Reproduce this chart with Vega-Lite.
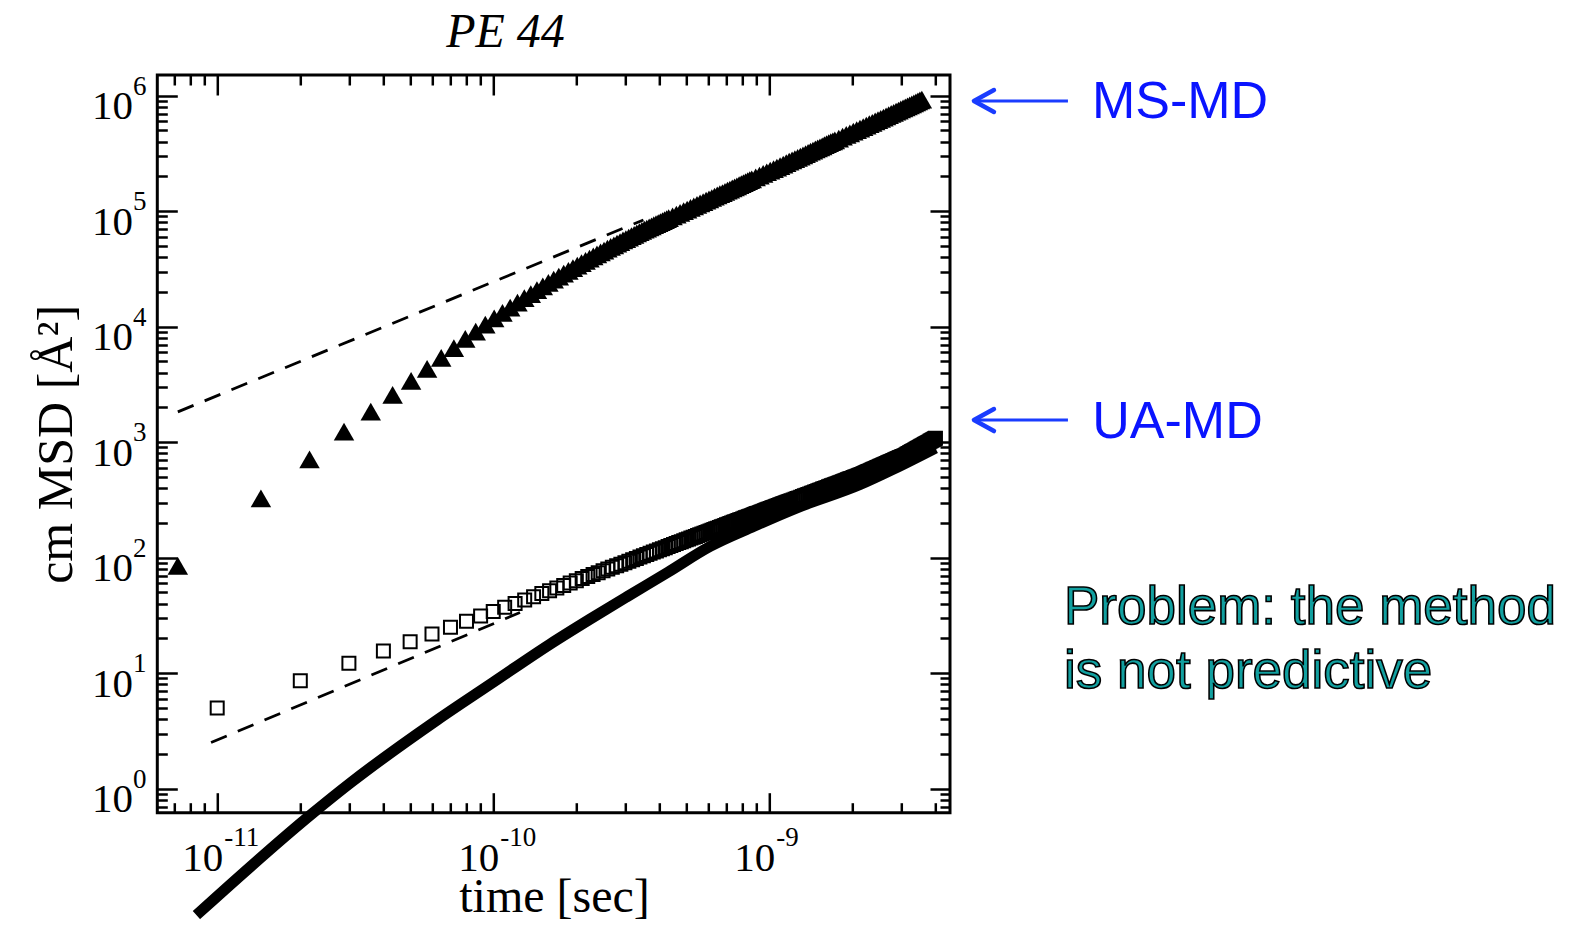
{
  "$schema": "https://vega.github.io/schema/vega-lite/v6.json",
  "autosize": "none",
  "width": 792.7,
  "height": 737.7,
  "padding": {"left": 157.3, "top": 75, "right": 626, "bottom": 113.3},
  "background": "white",
  "config": {
    "view": {"stroke": "black", "strokeWidth": 3},
    "axis": {
      "domain": false,
      "grid": false,
      "tickColor": "black",
      "tickWidth": 2.5,
      "labelColor": "black",
      "labelFont": "Liberation Serif",
      "labelFontSize": 41,
      "labelOverlap": false,
      "labelFlush": false,
      "labelBound": false,
      "titleColor": "black",
      "titleFont": "Liberation Serif",
      "titleFontWeight": "normal",
      "titleFontSize": 50
    }
  },
  "datasets": {
    "msmd": [
      {"t": 7.2e-12, "msd": 85}, {"t": 1.44e-11, "msd": 327}, {"t": 2.16e-11, "msd": 711},
      {"t": 2.88e-11, "msd": 1233}, {"t": 3.6e-11, "msd": 1837}, {"t": 4.32e-11, "msd": 2570},
      {"t": 5.04e-11, "msd": 3388}, {"t": 5.76e-11, "msd": 4315}, {"t": 6.48e-11, "msd": 5370},
      {"t": 7.2e-11, "msd": 6530}, {"t": 7.92e-11, "msd": 7850}, {"t": 8.64e-11, "msd": 9082},
      {"t": 9.36e-11, "msd": 10407}, {"t": 1.008e-10, "msd": 11784}, {"t": 1.08e-10, "msd": 13196},
      {"t": 1.152e-10, "msd": 14648}, {"t": 1.224e-10, "msd": 16133}, {"t": 1.296e-10, "msd": 17650},
      {"t": 1.368e-10, "msd": 19187}, {"t": 1.44e-10, "msd": 20757}, {"t": 1.512e-10, "msd": 22336},
      {"t": 1.584e-10, "msd": 23941}, {"t": 1.656e-10, "msd": 25558}, {"t": 1.728e-10, "msd": 27194},
      {"t": 1.8e-10, "msd": 28837}, {"t": 1.872e-10, "msd": 30484}, {"t": 1.944e-10, "msd": 32159},
      {"t": 2.016e-10, "msd": 33826}, {"t": 2.088e-10, "msd": 35499}, {"t": 2.16e-10, "msd": 37180},
      {"t": 2.232e-10, "msd": 38867}, {"t": 2.304e-10, "msd": 40551}, {"t": 2.376e-10, "msd": 42247},
      {"t": 2.448e-10, "msd": 43954}, {"t": 2.52e-10, "msd": 45633}, {"t": 2.592e-10, "msd": 47326},
      {"t": 2.664e-10, "msd": 49020}, {"t": 2.736e-10, "msd": 50716}, {"t": 2.808e-10, "msd": 52398},
      {"t": 2.88e-10, "msd": 54086}, {"t": 2.952e-10, "msd": 55768}, {"t": 3.024e-10, "msd": 57443},
      {"t": 3.096e-10, "msd": 59128}, {"t": 3.168e-10, "msd": 60786}, {"t": 3.24e-10, "msd": 62470},
      {"t": 3.312e-10, "msd": 64135}, {"t": 3.384e-10, "msd": 65793}, {"t": 3.456e-10, "msd": 67453},
      {"t": 3.528e-10, "msd": 69098}, {"t": 3.6e-10, "msd": 70729}, {"t": 3.672e-10, "msd": 72377},
      {"t": 3.744e-10, "msd": 74012}, {"t": 3.816e-10, "msd": 75634}, {"t": 3.888e-10, "msd": 77250},
      {"t": 3.96e-10, "msd": 78863}, {"t": 4.032e-10, "msd": 80465}, {"t": 4.104e-10, "msd": 82082},
      {"t": 4.176e-10, "msd": 83694}, {"t": 4.248e-10, "msd": 85316}, {"t": 4.32e-10, "msd": 86970},
      {"t": 4.464e-10, "msd": 90190}, {"t": 4.608e-10, "msd": 93460}, {"t": 4.752e-10, "msd": 96731},
      {"t": 4.896e-10, "msd": 100020}, {"t": 5.04e-10, "msd": 103320}, {"t": 5.184e-10, "msd": 106630},
      {"t": 5.328e-10, "msd": 109949}, {"t": 5.472e-10, "msd": 113320}, {"t": 5.616e-10, "msd": 116632},
      {"t": 5.76e-10, "msd": 119990}, {"t": 5.904e-10, "msd": 123349}, {"t": 6.048e-10, "msd": 126740},
      {"t": 6.192e-10, "msd": 130113}, {"t": 6.336e-10, "msd": 133500}, {"t": 6.48e-10, "msd": 136902},
      {"t": 6.624e-10, "msd": 140320}, {"t": 6.768e-10, "msd": 143744}, {"t": 6.912e-10, "msd": 147170},
      {"t": 7.056e-10, "msd": 150609}, {"t": 7.2e-10, "msd": 154060}, {"t": 7.344e-10, "msd": 157494},
      {"t": 7.488e-10, "msd": 161000}, {"t": 7.632e-10, "msd": 164447}, {"t": 7.776e-10, "msd": 167940},
      {"t": 7.92e-10, "msd": 171400}, {"t": 8.064e-10, "msd": 174920}, {"t": 8.208e-10, "msd": 178406},
      {"t": 8.352e-10, "msd": 181940}, {"t": 8.496e-10, "msd": 185430}, {"t": 8.64e-10, "msd": 189000},
      {"t": 8.928e-10, "msd": 196011}, {"t": 9.216e-10, "msd": 203110}, {"t": 9.504e-10, "msd": 210241},
      {"t": 9.792e-10, "msd": 217400}, {"t": 1.008e-9, "msd": 224568}, {"t": 1.0368e-9, "msd": 231740},
      {"t": 1.0656e-9, "msd": 238983}, {"t": 1.0944e-9, "msd": 246240}, {"t": 1.1232e-9, "msd": 253495},
      {"t": 1.152e-9, "msd": 260800}, {"t": 1.1808e-9, "msd": 268099}, {"t": 1.2096e-9, "msd": 275420},
      {"t": 1.2384e-9, "msd": 282793}, {"t": 1.2672e-9, "msd": 290200}, {"t": 1.296e-9, "msd": 297559},
      {"t": 1.3248e-9, "msd": 305050}, {"t": 1.3536e-9, "msd": 312395}, {"t": 1.3824e-9, "msd": 319890},
      {"t": 1.4112e-9, "msd": 327347}, {"t": 1.44e-9, "msd": 334880}, {"t": 1.4688e-9, "msd": 342342},
      {"t": 1.4976e-9, "msd": 349900}, {"t": 1.5264e-9, "msd": 357421}, {"t": 1.5552e-9, "msd": 364960},
      {"t": 1.584e-9, "msd": 372550}, {"t": 1.6128e-9, "msd": 380190}, {"t": 1.6416e-9, "msd": 387757},
      {"t": 1.6704e-9, "msd": 395420}, {"t": 1.6992e-9, "msd": 403032}, {"t": 1.728e-9, "msd": 410720},
      {"t": 1.7856e-9, "msd": 426043}, {"t": 1.8432e-9, "msd": 441540}, {"t": 1.9008e-9, "msd": 456953},
      {"t": 1.9584e-9, "msd": 472480}, {"t": 2.016e-9, "msd": 488092}, {"t": 2.0736e-9, "msd": 503780},
      {"t": 2.1312e-9, "msd": 519425}, {"t": 2.1888e-9, "msd": 535150}, {"t": 2.2464e-9, "msd": 550969},
      {"t": 2.304e-9, "msd": 566740}, {"t": 2.3616e-9, "msd": 582709}, {"t": 2.4192e-9, "msd": 598660},
      {"t": 2.4768e-9, "msd": 614656}, {"t": 2.5344e-9, "msd": 630600}, {"t": 2.592e-9, "msd": 646756},
      {"t": 2.6496e-9, "msd": 662770}, {"t": 2.7072e-9, "msd": 679043}, {"t": 2.7648e-9, "msd": 695120},
      {"t": 2.8224e-9, "msd": 711479}, {"t": 2.88e-9, "msd": 727780}, {"t": 2.9376e-9, "msd": 744079},
      {"t": 2.9952e-9, "msd": 760480}, {"t": 3.0528e-9, "msd": 776858}, {"t": 3.1104e-9, "msd": 793230},
      {"t": 3.168e-9, "msd": 809730}, {"t": 3.2256e-9, "msd": 826180}, {"t": 3.2832e-9, "msd": 842806},
      {"t": 3.3408e-9, "msd": 859360}, {"t": 3.3984e-9, "msd": 875913}, {"t": 3.456e-9, "msd": 892640},
      {"t": 3.5136e-9, "msd": 909308}, {"t": 3.5712e-9, "msd": 925930}
    ],
    "uamd": [
      {"t": 1e-11, "msd": 5.0}, {"t": 2e-11, "msd": 8.6}, {"t": 3e-11, "msd": 12.2}, {"t": 4e-11, "msd": 15.6},
      {"t": 5e-11, "msd": 18.7}, {"t": 6e-11, "msd": 21.8}, {"t": 7e-11, "msd": 25.0}, {"t": 8e-11, "msd": 28.2},
      {"t": 9e-11, "msd": 31.2}, {"t": 1e-10, "msd": 34.2}, {"t": 1.1e-10, "msd": 37.2}, {"t": 1.2e-10, "msd": 40.2},
      {"t": 1.3e-10, "msd": 43.1}, {"t": 1.4e-10, "msd": 46.0}, {"t": 1.5e-10, "msd": 48.9}, {"t": 1.6e-10, "msd": 51.76},
      {"t": 1.7e-10, "msd": 54.63}, {"t": 1.8e-10, "msd": 57.48}, {"t": 1.9e-10, "msd": 60.32}, {"t": 2.0e-10, "msd": 63.14},
      {"t": 2.1e-10, "msd": 65.94}, {"t": 2.2e-10, "msd": 68.73}, {"t": 2.3e-10, "msd": 71.5}, {"t": 2.4e-10, "msd": 74.26},
      {"t": 2.5e-10, "msd": 77.01}, {"t": 2.6e-10, "msd": 79.74}, {"t": 2.7e-10, "msd": 82.46}, {"t": 2.8e-10, "msd": 85.18},
      {"t": 2.9e-10, "msd": 87.88}, {"t": 3.0e-10, "msd": 90.57}, {"t": 3.1e-10, "msd": 93.25}, {"t": 3.2e-10, "msd": 95.93},
      {"t": 3.3e-10, "msd": 98.59}, {"t": 3.4e-10, "msd": 101.25}, {"t": 3.5e-10, "msd": 103.89}, {"t": 3.6e-10, "msd": 106.53},
      {"t": 3.7e-10, "msd": 109.16}, {"t": 3.8e-10, "msd": 111.78}, {"t": 3.9e-10, "msd": 114.39}, {"t": 4.0e-10, "msd": 117.0},
      {"t": 4.1e-10, "msd": 119.6}, {"t": 4.2e-10, "msd": 122.19}, {"t": 4.3e-10, "msd": 124.77}, {"t": 4.4e-10, "msd": 127.36},
      {"t": 4.5e-10, "msd": 129.93}, {"t": 4.6e-10, "msd": 132.5}, {"t": 4.7e-10, "msd": 135.06}, {"t": 4.8e-10, "msd": 137.61},
      {"t": 4.9e-10, "msd": 140.16}, {"t": 5.0e-10, "msd": 142.71}, {"t": 5.1e-10, "msd": 145.24}, {"t": 5.2e-10, "msd": 147.77},
      {"t": 5.3e-10, "msd": 150.3}, {"t": 5.4e-10, "msd": 152.81}, {"t": 5.5e-10, "msd": 155.33}, {"t": 5.6e-10, "msd": 157.83},
      {"t": 5.7e-10, "msd": 160.35}, {"t": 5.8e-10, "msd": 162.86}, {"t": 5.9e-10, "msd": 165.35}, {"t": 6.0e-10, "msd": 167.85},
      {"t": 6.1e-10, "msd": 170.34}, {"t": 6.2e-10, "msd": 172.82}, {"t": 6.3e-10, "msd": 175.3}, {"t": 6.4e-10, "msd": 177.77},
      {"t": 6.5e-10, "msd": 180.24}, {"t": 6.6e-10, "msd": 182.71}, {"t": 6.7e-10, "msd": 185.17}, {"t": 6.8e-10, "msd": 187.62},
      {"t": 6.9e-10, "msd": 190.08}, {"t": 7.0e-10, "msd": 192.53}, {"t": 7.1e-10, "msd": 194.97}, {"t": 7.2e-10, "msd": 197.4},
      {"t": 7.3e-10, "msd": 199.85}, {"t": 7.4e-10, "msd": 202.29}, {"t": 7.5e-10, "msd": 204.72}, {"t": 7.6e-10, "msd": 207.15},
      {"t": 7.7e-10, "msd": 209.57}, {"t": 7.8e-10, "msd": 211.99}, {"t": 7.9e-10, "msd": 214.4}, {"t": 8.0e-10, "msd": 216.81},
      {"t": 8.1e-10, "msd": 219.22}, {"t": 8.2e-10, "msd": 221.63}, {"t": 8.3e-10, "msd": 224.04}, {"t": 8.4e-10, "msd": 226.45},
      {"t": 8.5e-10, "msd": 228.85}, {"t": 8.6e-10, "msd": 231.24}, {"t": 8.7e-10, "msd": 233.63}, {"t": 8.8e-10, "msd": 236.02},
      {"t": 8.9e-10, "msd": 238.41}, {"t": 9.0e-10, "msd": 240.79}, {"t": 9.1e-10, "msd": 243.17}, {"t": 9.2e-10, "msd": 245.55},
      {"t": 9.3e-10, "msd": 247.93}, {"t": 9.4e-10, "msd": 250.3}, {"t": 9.5e-10, "msd": 252.67}, {"t": 9.6e-10, "msd": 255.03},
      {"t": 9.7e-10, "msd": 257.39}, {"t": 9.8e-10, "msd": 259.75}, {"t": 9.9e-10, "msd": 262.11}, {"t": 1.0e-9, "msd": 264.46},
      {"t": 1.01e-9, "msd": 266.81}, {"t": 1.02e-9, "msd": 269.16}, {"t": 1.03e-9, "msd": 271.51}, {"t": 1.04e-9, "msd": 273.86},
      {"t": 1.05e-9, "msd": 276.19}, {"t": 1.06e-9, "msd": 278.52}, {"t": 1.07e-9, "msd": 280.86}, {"t": 1.08e-9, "msd": 283.2},
      {"t": 1.09e-9, "msd": 285.54}, {"t": 1.1e-9, "msd": 287.87}, {"t": 1.11e-9, "msd": 290.2}, {"t": 1.12e-9, "msd": 292.53},
      {"t": 1.13e-9, "msd": 294.85}, {"t": 1.14e-9, "msd": 297.17}, {"t": 1.15e-9, "msd": 299.49}, {"t": 1.16e-9, "msd": 301.81},
      {"t": 1.17e-9, "msd": 304.11}, {"t": 1.18e-9, "msd": 306.41}, {"t": 1.19e-9, "msd": 308.72}, {"t": 1.2e-9, "msd": 311.03},
      {"t": 1.22e-9, "msd": 315.65}, {"t": 1.24e-9, "msd": 320.26}, {"t": 1.26e-9, "msd": 324.85}, {"t": 1.28e-9, "msd": 329.44},
      {"t": 1.3e-9, "msd": 334.02}, {"t": 1.32e-9, "msd": 338.59}, {"t": 1.34e-9, "msd": 343.14}, {"t": 1.36e-9, "msd": 347.68},
      {"t": 1.38e-9, "msd": 352.24}, {"t": 1.4e-9, "msd": 356.8}, {"t": 1.42e-9, "msd": 361.33}, {"t": 1.44e-9, "msd": 365.85},
      {"t": 1.46e-9, "msd": 370.36}, {"t": 1.48e-9, "msd": 374.87}, {"t": 1.5e-9, "msd": 379.37}, {"t": 1.52e-9, "msd": 383.87},
      {"t": 1.54e-9, "msd": 388.36}, {"t": 1.56e-9, "msd": 392.84}, {"t": 1.58e-9, "msd": 397.33}, {"t": 1.6e-9, "msd": 401.82},
      {"t": 1.62e-9, "msd": 406.28}, {"t": 1.64e-9, "msd": 410.74}, {"t": 1.66e-9, "msd": 415.2}, {"t": 1.68e-9, "msd": 419.65},
      {"t": 1.7e-9, "msd": 424.09}, {"t": 1.72e-9, "msd": 428.53}, {"t": 1.74e-9, "msd": 432.94}, {"t": 1.76e-9, "msd": 437.35},
      {"t": 1.78e-9, "msd": 441.79}, {"t": 1.8e-9, "msd": 446.22}, {"t": 1.82e-9, "msd": 450.63}, {"t": 1.84e-9, "msd": 455.04},
      {"t": 1.86e-9, "msd": 459.44}, {"t": 1.88e-9, "msd": 463.83}, {"t": 1.9e-9, "msd": 468.21}, {"t": 1.92e-9, "msd": 472.59},
      {"t": 1.94e-9, "msd": 476.98}, {"t": 1.96e-9, "msd": 481.37}, {"t": 1.98e-9, "msd": 485.74}, {"t": 2.0e-9, "msd": 490.11},
      {"t": 2.02e-9, "msd": 494.46}, {"t": 2.04e-9, "msd": 498.81}, {"t": 2.06e-9, "msd": 503.15}, {"t": 2.08e-9, "msd": 507.49},
      {"t": 2.1e-9, "msd": 511.84}, {"t": 2.12e-9, "msd": 516.18}, {"t": 2.14e-9, "msd": 520.96}, {"t": 2.16e-9, "msd": 525.73},
      {"t": 2.18e-9, "msd": 530.85}, {"t": 2.2e-9, "msd": 535.96}, {"t": 2.22e-9, "msd": 541.09}, {"t": 2.24e-9, "msd": 546.21},
      {"t": 2.26e-9, "msd": 551.32}, {"t": 2.28e-9, "msd": 556.42}, {"t": 2.3e-9, "msd": 561.57}, {"t": 2.32e-9, "msd": 566.71},
      {"t": 2.34e-9, "msd": 571.85}, {"t": 2.36e-9, "msd": 576.98}, {"t": 2.38e-9, "msd": 582.12}, {"t": 2.4e-9, "msd": 587.25},
      {"t": 2.42e-9, "msd": 592.38}, {"t": 2.44e-9, "msd": 597.51}, {"t": 2.46e-9, "msd": 602.66}, {"t": 2.48e-9, "msd": 607.8},
      {"t": 2.5e-9, "msd": 612.95}, {"t": 2.52e-9, "msd": 618.1}, {"t": 2.54e-9, "msd": 623.22}, {"t": 2.56e-9, "msd": 628.34},
      {"t": 2.58e-9, "msd": 633.54}, {"t": 2.6e-9, "msd": 638.73}, {"t": 2.62e-9, "msd": 643.89}, {"t": 2.64e-9, "msd": 649.05},
      {"t": 2.66e-9, "msd": 654.22}, {"t": 2.68e-9, "msd": 659.38}, {"t": 2.7e-9, "msd": 664.56}, {"t": 2.72e-9, "msd": 669.74},
      {"t": 2.74e-9, "msd": 674.92}, {"t": 2.76e-9, "msd": 680.09}, {"t": 2.78e-9, "msd": 685.27}, {"t": 2.8e-9, "msd": 690.44},
      {"t": 2.82e-9, "msd": 695.6}, {"t": 2.84e-9, "msd": 700.75}, {"t": 2.86e-9, "msd": 705.95}, {"t": 2.88e-9, "msd": 711.15},
      {"t": 2.9e-9, "msd": 716.34}, {"t": 2.92e-9, "msd": 721.52}, {"t": 2.94e-9, "msd": 726.71}, {"t": 2.96e-9, "msd": 731.9},
      {"t": 2.98e-9, "msd": 737.1}, {"t": 3.0e-9, "msd": 742.29}, {"t": 3.02e-9, "msd": 747.47}, {"t": 3.04e-9, "msd": 752.65},
      {"t": 3.07e-9, "msd": 760.71}, {"t": 3.1e-9, "msd": 768.77}, {"t": 3.13e-9, "msd": 778.77}, {"t": 3.16e-9, "msd": 788.77},
      {"t": 3.19e-9, "msd": 798.87}, {"t": 3.22e-9, "msd": 808.97}, {"t": 3.25e-9, "msd": 819.1}, {"t": 3.28e-9, "msd": 829.22},
      {"t": 3.31e-9, "msd": 839.42}, {"t": 3.34e-9, "msd": 849.62}, {"t": 3.37e-9, "msd": 859.88}, {"t": 3.4e-9, "msd": 870.13},
      {"t": 3.43e-9, "msd": 880.46}, {"t": 3.46e-9, "msd": 890.78}, {"t": 3.49e-9, "msd": 901.15}, {"t": 3.52e-9, "msd": 911.51},
      {"t": 3.55e-9, "msd": 921.95}, {"t": 3.58e-9, "msd": 932.39}, {"t": 3.61e-9, "msd": 942.89}, {"t": 3.64e-9, "msd": 953.38},
      {"t": 3.67e-9, "msd": 963.95}, {"t": 3.7e-9, "msd": 974.51}, {"t": 3.73e-9, "msd": 985.07}, {"t": 3.76e-9, "msd": 995.63},
      {"t": 3.79e-9, "msd": 1006.36}, {"t": 3.82e-9, "msd": 1017.09}, {"t": 3.85e-9, "msd": 1027.83}, {"t": 3.88e-9, "msd": 1038.56},
      {"t": 3.91e-9, "msd": 1049.36}, {"t": 3.94e-9, "msd": 1060.16}, {"t": 3.97e-9, "msd": 1070.96}, {"t": 4.0e-9, "msd": 1081.75}
    ],
    "model": [
      {"t": 8.41e-12, "msd": 0.0805}, {"t": 2.228e-11, "msd": 0.619}, {"t": 3.027e-11, "msd": 1.114},
      {"t": 6.266e-11, "msd": 3.936}, {"t": 1.0e-10, "msd": 8.35}, {"t": 1.603e-10, "msd": 17.78},
      {"t": 2.239e-10, "msd": 29.3}, {"t": 3.041e-10, "msd": 45.7}, {"t": 4.3e-10, "msd": 75},
      {"t": 6.095e-10, "msd": 125}, {"t": 8.8e-10, "msd": 187}, {"t": 1.259e-9, "msd": 270},
      {"t": 2.133e-9, "msd": 430}, {"t": 2.818e-9, "msd": 585}, {"t": 3.999e-9, "msd": 890}
    ],
    "fits": [
      {"fit": "MS-MD", "t": 7.2e-12, "msd": 1830}, {"fit": "MS-MD", "t": 3.5e-10, "msd": 84000},
      {"fit": "UA-MD", "t": 9.5e-12, "msd": 2.51}, {"fit": "UA-MD", "t": 1.25e-10, "msd": 33.5}
    ],
    "xexp": [
      {"t": 1e-11, "e": "-11"}, {"t": 1e-10, "e": "-10"}, {"t": 1e-9, "e": "-9"}
    ],
    "yexp": [
      {"msd": 1, "e": "0"}, {"msd": 10, "e": "1"}, {"msd": 100, "e": "2"}, {"msd": 1000, "e": "3"},
      {"msd": 10000, "e": "4"}, {"msd": 100000, "e": "5"}, {"msd": 1000000, "e": "6"}
    ],
    "heading": [
      {"label": "PE 44", "t": 1.108e-10, "msd": 2.656e6}
    ],
    "arrows": [
      {"label": "MS-MD", "tip": 5.515e-9, "tail": 1.208e-8, "msd": 9.0e5},
      {"label": "UA-MD", "tip": 5.515e-9, "tail": 1.208e-8, "msd": 1556}
    ],
    "tags": [
      {"label": "MS-MD", "t": 1.476e-8, "msd": 6.46e5},
      {"label": "UA-MD", "t": 1.48e-8, "msd": 1086}
    ],
    "remark": [
      {"line": "Problem: the method", "t": 1.169e-8, "msd": 26.7},
      {"line": "is not predictive", "t": 1.169e-8, "msd": 7.45}
    ]
  },
  "resolve": {"axis": {"x": "independent", "y": "independent"}},
  "layer": [
    {
      "data": {"name": "fits"},
      "mark": {"type": "line", "color": "black", "strokeWidth": 2.8, "strokeDash": [17, 12]},
      "encoding": {
        "x": {"field": "t", "type": "quantitative", "scale": {"type": "log", "domain": [6.067e-12, 4.516e-9], "nice": false, "zero": false}, "axis": null},
        "y": {"field": "msd", "type": "quantitative", "scale": {"type": "log", "domain": [0.6197, 1.511e6], "nice": false, "zero": false}, "axis": null},
        "detail": {"field": "fit"}
      }
    },
    {
      "data": {"name": "msmd"},
      "mark": {"type": "point", "shape": "triangle-up", "filled": true, "size": 420, "color": "black", "opacity": 1},
      "encoding": {
        "x": {
          "field": "t", "type": "quantitative",
          "scale": {"type": "log", "domain": [6.067e-12, 4.516e-9], "nice": false, "zero": false},
          "axis": {
            "orient": "bottom",
            "values": [7e-12, 8e-12, 9e-12, 1e-11, 2e-11, 3e-11, 4e-11, 5e-11, 6e-11, 7e-11, 8e-11, 9e-11, 1e-10, 2e-10, 3e-10, 4e-10, 5e-10, 6e-10, 7e-10, 8e-10, 9e-10, 1e-9, 2e-9, 3e-9, 4e-9],
            "tickSize": {"condition": {"test": "indexof([1e-11, 1e-10, 1e-9], datum.value) >= 0", "value": -20}, "value": -10},
            "labelExpr": "indexof([1e-11, 1e-10, 1e-9], datum.value) >= 0 ? '10' : ''",
            "labelAlign": "right",
            "labelBaseline": "alphabetic",
            "labelOffset": 5.5,
            "labelPadding": 78,
            "title": "time [sec]",
            "titleX": 396.7,
            "titleY": 99,
            "titleAlign": "center",
            "titleBaseline": "alphabetic",
            "titleFontSize": 48
          }
        },
        "y": {
          "field": "msd", "type": "quantitative",
          "scale": {"type": "log", "domain": [0.6197, 1.511e6], "nice": false, "zero": false},
          "axis": {
            "orient": "left",
            "values": [0.7, 0.8, 0.9, 1, 2, 3, 4, 5, 6, 7, 8, 9, 10, 20, 30, 40, 50, 60, 70, 80, 90, 100, 200, 300, 400, 500, 600, 700, 800, 900, 1000, 2000, 3000, 4000, 5000, 6000, 7000, 8000, 9000, 10000, 20000, 30000, 40000, 50000, 60000, 70000, 80000, 90000, 100000, 200000, 300000, 400000, 500000, 600000, 700000, 800000, 900000, 1000000],
            "tickSize": {"condition": {"test": "indexof([1, 10, 100, 1000, 10000, 100000, 1000000], datum.value) >= 0", "value": -20}, "value": -10},
            "labelExpr": "indexof([1, 10, 100, 1000, 10000, 100000, 1000000], datum.value) >= 0 ? '10' : ''",
            "labelAlign": "right",
            "labelBaseline": "alphabetic",
            "labelPadding": 44.8,
            "labelOffset": 23,
            "title": "cm MSD [Å²]",
            "titleX": -86,
            "titleY": 368.9,
            "titleAngle": -90,
            "titleAlign": "center",
            "titleBaseline": "alphabetic"
          }
        }
      }
    },
    {
      "data": {"name": "uamd"},
      "mark": {"type": "point", "shape": "square", "filled": false, "size": 169, "stroke": "black", "strokeWidth": 2, "opacity": 1},
      "encoding": {
        "x": {
          "field": "t", "type": "quantitative",
          "scale": {"type": "log", "domain": [6.067e-12, 4.516e-9], "nice": false, "zero": false},
          "axis": {
            "orient": "top",
            "values": [7e-12, 8e-12, 9e-12, 1e-11, 2e-11, 3e-11, 4e-11, 5e-11, 6e-11, 7e-11, 8e-11, 9e-11, 1e-10, 2e-10, 3e-10, 4e-10, 5e-10, 6e-10, 7e-10, 8e-10, 9e-10, 1e-9, 2e-9, 3e-9, 4e-9],
            "tickSize": {"condition": {"test": "indexof([1e-11, 1e-10, 1e-9], datum.value) >= 0", "value": -20}, "value": -10},
            "labels": false,
            "title": null
          }
        },
        "y": {
          "field": "msd", "type": "quantitative",
          "scale": {"type": "log", "domain": [0.6197, 1.511e6], "nice": false, "zero": false},
          "axis": {
            "orient": "right",
            "values": [0.7, 0.8, 0.9, 1, 2, 3, 4, 5, 6, 7, 8, 9, 10, 20, 30, 40, 50, 60, 70, 80, 90, 100, 200, 300, 400, 500, 600, 700, 800, 900, 1000, 2000, 3000, 4000, 5000, 6000, 7000, 8000, 9000, 10000, 20000, 30000, 40000, 50000, 60000, 70000, 80000, 90000, 100000, 200000, 300000, 400000, 500000, 600000, 700000, 800000, 900000, 1000000],
            "tickSize": {"condition": {"test": "indexof([1, 10, 100, 1000, 10000, 100000, 1000000], datum.value) >= 0", "value": -20}, "value": -10},
            "labels": false,
            "title": null
          }
        }
      }
    },
    {
      "data": {"name": "model"},
      "mark": {"type": "line", "color": "black", "strokeWidth": 11, "strokeCap": "butt", "interpolate": "monotone"},
      "encoding": {
        "x": {"field": "t", "type": "quantitative", "scale": {"type": "log", "domain": [6.067e-12, 4.516e-9], "nice": false, "zero": false}, "axis": null},
        "y": {"field": "msd", "type": "quantitative", "scale": {"type": "log", "domain": [0.6197, 1.511e6], "nice": false, "zero": false}, "axis": null}
      }
    },
    {
      "data": {"name": "xexp"},
      "mark": {"type": "text", "font": "Liberation Serif", "fontSize": 27, "color": "black", "align": "left", "baseline": "alphabetic", "dx": 7, "dy": 33},
      "encoding": {
        "x": {"field": "t", "type": "quantitative", "scale": {"type": "log", "domain": [6.067e-12, 4.516e-9], "nice": false, "zero": false}, "axis": null},
        "y": {"datum": 0.6197, "type": "quantitative", "scale": {"type": "log", "domain": [0.6197, 1.511e6], "nice": false, "zero": false}, "axis": null},
        "text": {"field": "e"}
      }
    },
    {
      "data": {"name": "yexp"},
      "mark": {"type": "text", "font": "Liberation Serif", "fontSize": 27, "color": "black", "align": "left", "baseline": "alphabetic", "dx": -24.3, "dy": -1},
      "encoding": {
        "x": {"datum": 6.067e-12, "type": "quantitative", "scale": {"type": "log", "domain": [6.067e-12, 4.516e-9], "nice": false, "zero": false}, "axis": null},
        "y": {"field": "msd", "type": "quantitative", "scale": {"type": "log", "domain": [0.6197, 1.511e6], "nice": false, "zero": false}, "axis": null},
        "text": {"field": "e"}
      }
    },
    {
      "data": {"name": "heading"},
      "mark": {"type": "text", "font": "Liberation Serif", "fontStyle": "italic", "fontSize": 48, "color": "black", "align": "center", "baseline": "alphabetic"},
      "encoding": {
        "x": {"field": "t", "type": "quantitative", "scale": {"type": "log", "domain": [6.067e-12, 4.516e-9], "nice": false, "zero": false}, "axis": null},
        "y": {"field": "msd", "type": "quantitative", "scale": {"type": "log", "domain": [0.6197, 1.511e6], "nice": false, "zero": false}, "axis": null},
        "text": {"field": "label"}
      }
    },
    {
      "data": {"name": "arrows"},
      "mark": {"type": "rule", "color": "#1a3cff", "strokeWidth": 3},
      "encoding": {
        "x": {"field": "tip", "type": "quantitative", "scale": {"type": "log", "domain": [6.067e-12, 4.516e-9], "nice": false, "zero": false}, "axis": null},
        "x2": {"field": "tail"},
        "y": {"field": "msd", "type": "quantitative", "scale": {"type": "log", "domain": [0.6197, 1.511e6], "nice": false, "zero": false}, "axis": null}
      }
    },
    {
      "data": {"name": "arrows"},
      "mark": {"type": "point", "shape": "M2,-1.1L0,0L2,1.1", "filled": false, "size": 400, "stroke": "#1a3cff", "strokeWidth": 4.5, "strokeCap": "round", "strokeJoin": "round", "opacity": 1},
      "encoding": {
        "x": {"field": "tip", "type": "quantitative", "scale": {"type": "log", "domain": [6.067e-12, 4.516e-9], "nice": false, "zero": false}, "axis": null},
        "y": {"field": "msd", "type": "quantitative", "scale": {"type": "log", "domain": [0.6197, 1.511e6], "nice": false, "zero": false}, "axis": null}
      }
    },
    {
      "data": {"name": "tags"},
      "mark": {"type": "text", "font": "Liberation Sans", "fontSize": 52, "color": "#0a14ff", "align": "left", "baseline": "alphabetic"},
      "encoding": {
        "x": {"field": "t", "type": "quantitative", "scale": {"type": "log", "domain": [6.067e-12, 4.516e-9], "nice": false, "zero": false}, "axis": null},
        "y": {"field": "msd", "type": "quantitative", "scale": {"type": "log", "domain": [0.6197, 1.511e6], "nice": false, "zero": false}, "axis": null},
        "text": {"field": "label"}
      }
    },
    {
      "data": {"name": "remark"},
      "mark": {"type": "text", "font": "Liberation Sans", "fontSize": 53, "fill": "#12a0a0", "stroke": "black", "strokeWidth": 1.6, "align": "left", "baseline": "alphabetic"},
      "encoding": {
        "x": {"field": "t", "type": "quantitative", "scale": {"type": "log", "domain": [6.067e-12, 4.516e-9], "nice": false, "zero": false}, "axis": null},
        "y": {"field": "msd", "type": "quantitative", "scale": {"type": "log", "domain": [0.6197, 1.511e6], "nice": false, "zero": false}, "axis": null},
        "text": {"field": "line"}
      }
    }
  ]
}
